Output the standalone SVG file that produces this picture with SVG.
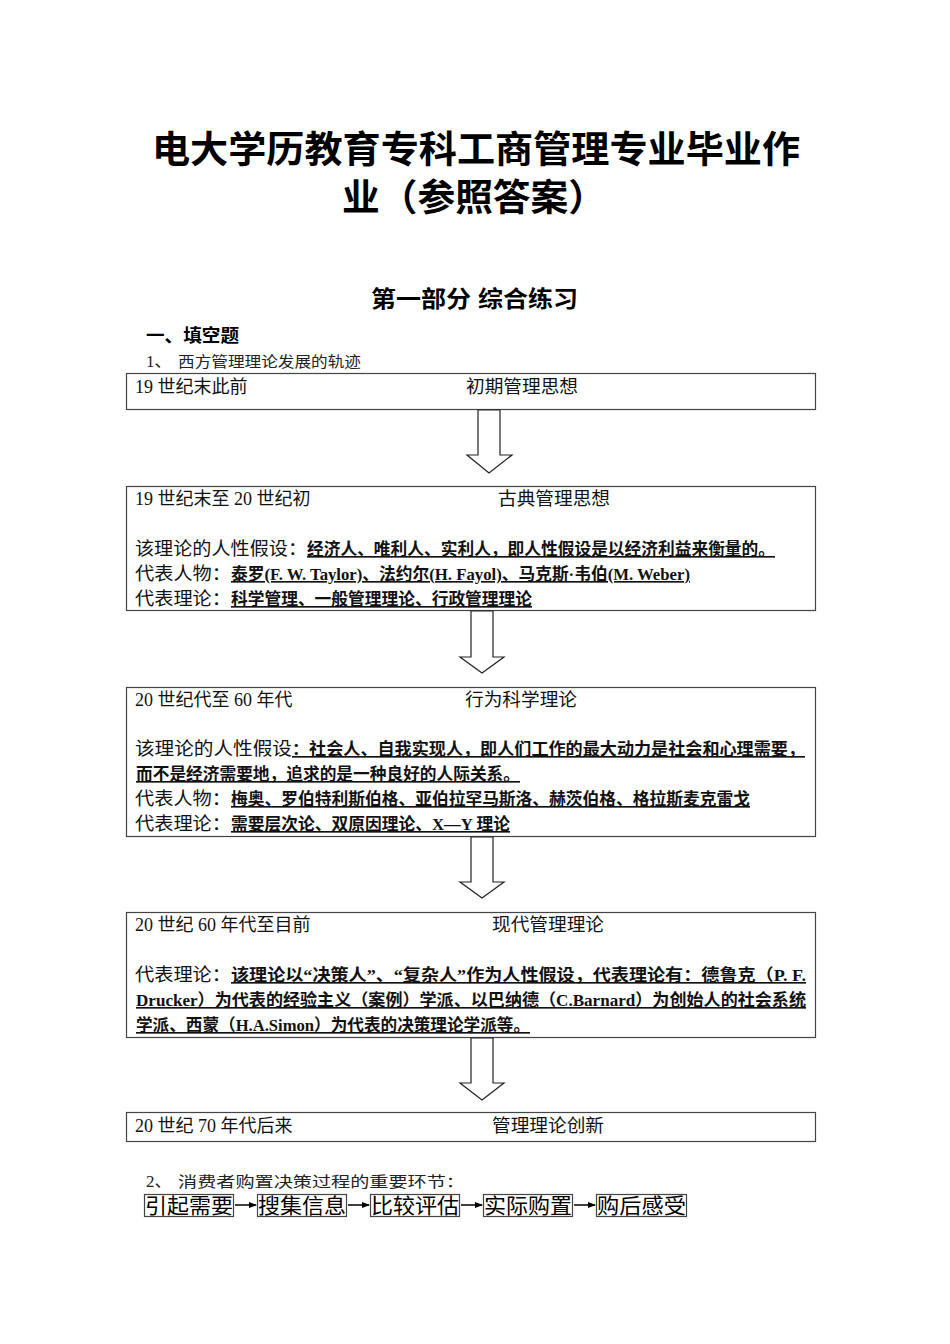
<svg xmlns="http://www.w3.org/2000/svg" width="950" height="1344" viewBox="0 0 950 1344">
<style>
.bg{fill:#ffffff}
.box{fill:#ffffff;stroke:#444444;stroke-width:1.2}
.t{font-family:"Liberation Serif","Noto Sans CJK SC",serif;font-size:18px;fill:#111111}
.b{font-family:"Liberation Serif","Noto Sans CJK SC",serif;font-size:16.5px;font-weight:bold;fill:#111111;text-decoration:underline}
.h{font-family:"Liberation Sans","Noto Sans CJK SC",sans-serif;font-weight:bold;fill:#000000}
.s{font-family:"Liberation Serif","Noto Sans CJK SC",serif;font-size:15px;fill:#222222}
.n{font-family:"Liberation Serif","Noto Sans CJK SC",serif;font-size:17px;fill:#222222}
.blk{fill:#ffffff;stroke:#222222;stroke-width:1.2}
.fl{fill:none;stroke:#444444;stroke-width:1.2}
.ft{font-family:"Noto Sans CJK SC",sans-serif;font-size:21px;fill:#000000}
.ln{stroke:#000000;stroke-width:1.5}
</style>
<defs>
<marker id="ah" markerWidth="8" markerHeight="8" refX="7" refY="4" orient="auto" markerUnits="userSpaceOnUse">
<path d="M0,1 L8,4 L0,7 Z" fill="#000000"/>
</marker>
</defs>
<rect class="bg" x="0" y="0" width="950" height="1344"/>

<g id="title">
<text class="h" x="476" y="163" font-size="37" text-anchor="middle" textLength="648" lengthAdjust="spacingAndGlyphs">电大学历教育专科工商管理专业毕业作</text>
<text class="h" x="342" y="211" font-size="37" textLength="264" lengthAdjust="spacingAndGlyphs">业（参照答案）</text>
<text class="h" x="371" y="307" font-size="23" textLength="207" lengthAdjust="spacingAndGlyphs">第一部分 综合练习</text>
<text class="h" x="146" y="342" font-size="18" textLength="93" lengthAdjust="spacingAndGlyphs">一、填空题</text>
<text class="n" x="146" y="367">1、</text>
<text class="s" x="178" y="367" textLength="183" lengthAdjust="spacingAndGlyphs">西方管理理论发展的轨迹</text>
</g>

<g id="node1">
<rect class="box" x="126.5" y="373.5" width="689" height="36"/>
<text class="t" x="135" y="393">19 世纪末此前</text>
<text class="t" x="466" y="393" textLength="112" lengthAdjust="spacingAndGlyphs">初期管理思想</text>
</g>

<g id="node2">
<rect class="box" x="126.5" y="486.5" width="689" height="124"/>
<text class="t" x="135" y="505">19 世纪末至 20 世纪初</text>
<text class="t" x="498" y="505" textLength="112" lengthAdjust="spacingAndGlyphs">古典管理思想</text>
<text class="t" x="135" y="555" textLength="172" lengthAdjust="spacingAndGlyphs">该理论的人性假设：</text>
<text class="b" x="307" y="555" textLength="468" lengthAdjust="spacingAndGlyphs">经济人、唯利人、实利人，即人性假设是以经济利益来衡量的。</text>
<text class="t" x="135" y="580" textLength="96" lengthAdjust="spacingAndGlyphs">代表人物：</text>
<text class="b" x="231" y="580" textLength="459" lengthAdjust="spacingAndGlyphs">泰罗(F. W. Taylor)、法约尔(H. Fayol)、马克斯·韦伯(M. Weber)</text>
<text class="t" x="135" y="605" textLength="96" lengthAdjust="spacingAndGlyphs">代表理论：</text>
<text class="b" x="231" y="605" textLength="301" lengthAdjust="spacingAndGlyphs">科学管理、一般管理理论、行政管理理论</text>
</g>

<g id="node3">
<rect class="box" x="126.5" y="687.5" width="689" height="149"/>
<text class="t" x="135" y="706">20 世纪代至 60 年代</text>
<text class="t" x="465" y="706" textLength="112" lengthAdjust="spacingAndGlyphs">行为科学理论</text>
<text class="t" x="135" y="755" textLength="157" lengthAdjust="spacingAndGlyphs">该理论的人性假设</text>
<text class="b" x="292" y="755" textLength="513" lengthAdjust="spacingAndGlyphs">：社会人、自我实现人，即人们工作的最大动力是社会和心理需要，</text>
<text class="b" x="136" y="780" textLength="384" lengthAdjust="spacingAndGlyphs">而不是经济需要地，追求的是一种良好的人际关系。</text>
<text class="t" x="135" y="805" textLength="96" lengthAdjust="spacingAndGlyphs">代表人物：</text>
<text class="b" x="231" y="805" textLength="519" lengthAdjust="spacingAndGlyphs">梅奥、罗伯特利斯伯格、亚伯拉罕马斯洛、赫茨伯格、格拉斯麦克雷戈</text>
<text class="t" x="135" y="830" textLength="96" lengthAdjust="spacingAndGlyphs">代表理论：</text>
<text class="b" x="231" y="830" textLength="279" lengthAdjust="spacingAndGlyphs">需要层次论、双原因理论、X—Y 理论</text>
</g>

<g id="node4">
<rect class="box" x="126.5" y="912.5" width="689" height="125"/>
<text class="t" x="135" y="931">20 世纪 60 年代至目前</text>
<text class="t" x="492" y="931" textLength="112" lengthAdjust="spacingAndGlyphs">现代管理理论</text>
<text class="t" x="135" y="981" textLength="96" lengthAdjust="spacingAndGlyphs">代表理论：</text>
<text class="b" x="231" y="981" textLength="575" lengthAdjust="spacingAndGlyphs">该理论以“决策人”、“复杂人”作为人性假设，代表理论有：德鲁克（P. F.</text>
<text class="b" x="136" y="1006" textLength="670" lengthAdjust="spacingAndGlyphs">Drucker）为代表的经验主义（案例）学派、以巴纳德（C.Barnard）为创始人的社会系统</text>
<text class="b" x="136" y="1031" textLength="394" lengthAdjust="spacingAndGlyphs">学派、西蒙（H.A.Simon）为代表的决策理论学派等。</text>
</g>

<g id="node5">
<rect class="box" x="126.5" y="1112.5" width="689" height="29"/>
<text class="t" x="135" y="1132">20 世纪 70 年代后来</text>
<text class="t" x="492" y="1132" textLength="112" lengthAdjust="spacingAndGlyphs">管理理论创新</text>
</g>

<g id="connectors">
<polygon class="blk" points="478,410 500,410 500,455 512,455 489,473 467,455 478,455"/>
<polygon class="blk" points="471,611 493,611 493,657 504,657 482,673 460,657 471,657"/>
<polygon class="blk" points="471,837 493,837 493,882 504,882 482,898 460,882 471,882"/>
<polygon class="blk" points="471,1038 493,1038 493,1083 504,1083 482,1100 460,1083 471,1083"/>
</g>

<g id="section2">
<text class="n" x="146" y="1187">2、</text>
<text class="s" x="178" y="1187" textLength="287" lengthAdjust="spacingAndGlyphs">消费者购置决策过程的重要环节：</text>
</g>

<g id="step1">
<rect class="fl" x="144.5" y="1194.5" width="89" height="22"/>
<text class="ft" x="145" y="1213" textLength="88" lengthAdjust="spacingAndGlyphs">引起需要</text>
</g>
<g id="step2">
<rect class="fl" x="257.5" y="1194.5" width="89" height="22"/>
<text class="ft" x="258" y="1213" textLength="88" lengthAdjust="spacingAndGlyphs">搜集信息</text>
</g>
<g id="step3">
<rect class="fl" x="370.5" y="1194.5" width="89" height="22"/>
<text class="ft" x="371" y="1213" textLength="88" lengthAdjust="spacingAndGlyphs">比较评估</text>
</g>
<g id="step4">
<rect class="fl" x="483.5" y="1194.5" width="89" height="22"/>
<text class="ft" x="484" y="1213" textLength="88" lengthAdjust="spacingAndGlyphs">实际购置</text>
</g>
<g id="step5">
<rect class="fl" x="596.5" y="1194.5" width="90" height="22"/>
<text class="ft" x="597" y="1213" textLength="89" lengthAdjust="spacingAndGlyphs">购后感受</text>
</g>
<g id="flow-connectors">
<line class="ln" x1="235" y1="1205" x2="256" y2="1205" marker-end="url(#ah)"/>
<line class="ln" x1="348" y1="1205" x2="369" y2="1205" marker-end="url(#ah)"/>
<line class="ln" x1="461" y1="1205" x2="482" y2="1205" marker-end="url(#ah)"/>
<line class="ln" x1="574" y1="1205" x2="595" y2="1205" marker-end="url(#ah)"/>
</g>
</svg>
